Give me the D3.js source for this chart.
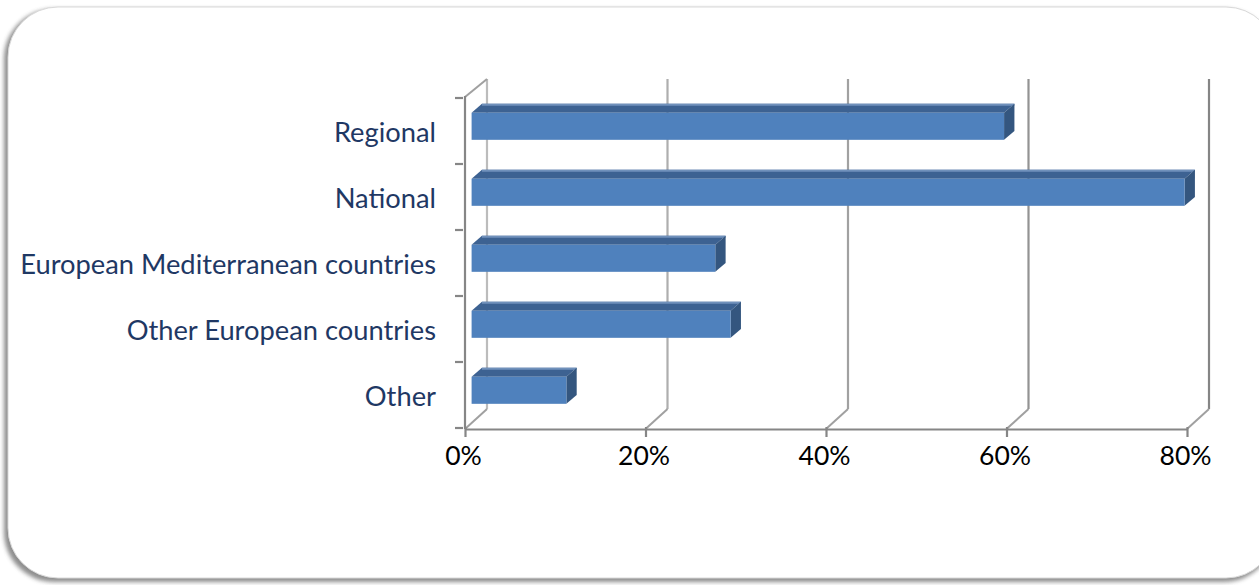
<!DOCTYPE html>
<html>
<head>
<meta charset="utf-8">
<script src="https://cdn.jsdelivr.net/npm/d3@7/dist/d3.min.js"></script>
<style>
  html, body { margin: 0; padding: 0; background: #ffffff; }
  svg { display: block; }
</style>
</head>
<body>
<svg id="chart" width="1259" height="585"></svg>
<script>
// Share of respondents by market reach (percent)
const categories = ["Regional", "National", "European Mediterranean countries", "Other European countries", "Other"];
const values = [59, 79, 27, 28.7, 10.5];
const tickValues = [0, 20, 40, 60, 80];
const tickLabels = ["0%", "20%", "40%", "60%", "80%"];

const W = 1259, H = 585;
const svg = d3.select("#chart");

// Frame with soft shadow on the left and bottom
const defs = svg.append("defs");
const blur = defs.append("filter").attr("id", "frameShadow")
  .attr("x", "-5%").attr("y", "-5%").attr("width", "110%").attr("height", "110%");
blur.append("feGaussianBlur").attr("stdDeviation", 2.2);

svg.append("rect")
  .attr("x", 4).attr("y", 9).attr("width", 1270).attr("height", 573)
  .attr("rx", 50).attr("ry", 50)
  .attr("fill", "#7a7a7a").attr("opacity", 0.85)
  .attr("filter", "url(#frameShadow)");
svg.append("rect")
  .attr("x", 8).attr("y", 7).attr("width", 1268).attr("height", 571)
  .attr("rx", 50).attr("ry", 50)
  .attr("fill", "#ffffff").attr("stroke", "#d9d9d9").attr("stroke-width", 1);

// 3D projection: depth 0 = front plane, depth 1 = back wall
const DX = 22, DY = -19;
const x = d3.scaleLinear().domain([0, 80]).range([465, 1187]);
const y = d3.scaleBand().domain(categories).range([98, 428]).padding(0);
const proj = (px, py, d) => [px + d * DX, py + d * DY];

const yTop = y.range()[0], yBot = y.range()[1];
const gridColor = d3.scaleLinear().domain([0, 80]).range(["#bcbcbc", "#858585"]);

const walls = svg.append("g");
// Back-wall vertical gridlines
tickValues.forEach(v => {
  const [bx, by0] = proj(x(v), yTop, 1);
  const [, by1] = proj(x(v), yBot, 1);
  walls.append("line")
    .attr("x1", bx).attr("x2", bx).attr("y1", by0).attr("y2", by1)
    .attr("stroke", gridColor(v)).attr("stroke-width", 2.2);
});
// Floor diagonals from the front axis to the back wall
tickValues.forEach(v => {
  const [bx, by] = proj(x(v), yBot, 1);
  walls.append("line")
    .attr("x1", x(v)).attr("y1", yBot + 1).attr("x2", bx).attr("y2", by)
    .attr("stroke", "#a0a0a0").attr("stroke-width", 2);
});
// Side wall top edge
{
  const [bx, by] = proj(x(0), yTop, 1);
  walls.append("line")
    .attr("x1", x(0)).attr("y1", yTop - 1).attr("x2", bx).attr("y2", by)
    .attr("stroke", "#a0a0a0").attr("stroke-width", 2);
}

// Bars: front face, top face, right side face
const d0 = 0.3, d1 = 0.77;
const bars = svg.append("g");
categories.forEach((c, i) => {
  const v = values[i];
  const top = y(c) + y.bandwidth() * 0.31;
  const h = y.bandwidth() * 0.41;
  const [fx0, fy] = proj(x(0), top, d0);
  const [fx1] = proj(x(v), top, d0);
  const [bx0, by] = proj(x(0), top, d1);
  const [bx1] = proj(x(v), top, d1);

  // top face
  bars.append("polygon")
    .attr("points", [[fx0, fy], [fx1, fy], [bx1, by], [bx0, by]].map(p => p.join(",")).join(" "))
    .attr("fill", "#3d6292");
  bars.append("line")
    .attr("x1", bx0).attr("x2", bx1).attr("y1", by + 1).attr("y2", by + 1)
    .attr("stroke", "#7091bb").attr("stroke-width", 2);
  // side face
  bars.append("polygon")
    .attr("points", [[fx1, fy], [bx1, by], [bx1, by + h], [fx1, fy + h]].map(p => p.join(",")).join(" "))
    .attr("fill", "#34567f");
  // front face
  bars.append("rect")
    .attr("x", fx0).attr("y", fy).attr("width", fx1 - fx0).attr("height", h)
    .attr("fill", "#4f81bd");
});

// Front axes
const axisColor = "#868686";
const axes = svg.append("g");
axes.append("line")
  .attr("x1", x(0)).attr("x2", x(0)).attr("y1", yTop - 2).attr("y2", yBot + 1)
  .attr("stroke", axisColor).attr("stroke-width", 2.2);

// Category boundary ticks on the vertical axis
const bounds = categories.map(c => y(c)).concat([yBot]);
bounds.forEach(b => {
  axes.append("line")
    .attr("x1", x(0) - 10).attr("x2", x(0) - 2).attr("y1", b).attr("y2", b)
    .attr("stroke", axisColor).attr("stroke-width", 2.2);
});

// Value axis along the front floor edge
const xAxis = d3.axisBottom(x)
  .tickValues(tickValues)
  .tickFormat((d, i) => tickLabels[i])
  .tickSize(8).tickSizeOuter(0).tickPadding(9);
const gx = axes.append("g")
  .attr("transform", `translate(0,${yBot + 1})`)
  .call(xAxis);
gx.select(".domain").attr("stroke", axisColor).attr("stroke-width", 2.2);
gx.selectAll(".tick line").attr("stroke", axisColor).attr("stroke-width", 2.2).attr("y1", -2);
gx.selectAll(".tick text")
  .attr("fill", "#000000")
  .attr("dx", -2)
  .style("font-family", "Lato, 'Open Sans', sans-serif")
  .style("font-size", "26.5px");

// Category labels
svg.append("g").selectAll("text")
  .data(categories)
  .join("text")
  .attr("x", 436)
  .attr("y", d => y(d) + y.bandwidth() / 2)
  .attr("text-anchor", "end")
  .attr("dominant-baseline", "central")
  .attr("fill", "#1f3864")
  .style("font-family", "Lato, 'Open Sans', sans-serif")
  .style("font-size", "27.3px")
  .text(d => d);
</script>
</body>
</html>
